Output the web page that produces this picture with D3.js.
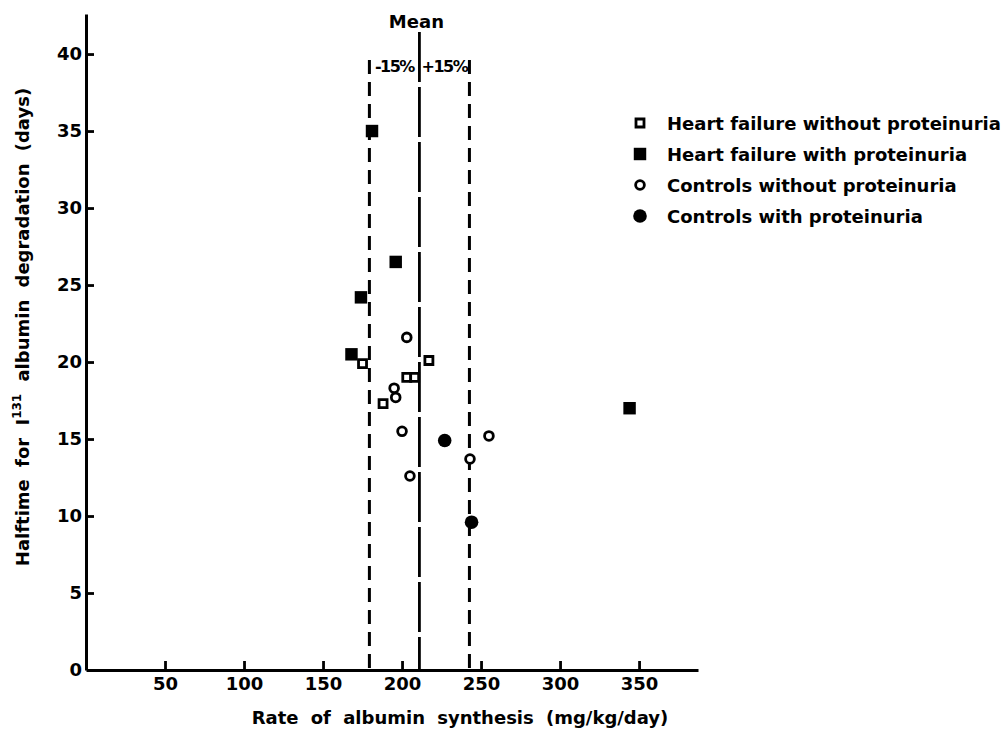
<!DOCTYPE html>
<html>
<head>
<meta charset="utf-8">
<script src="https://cdn.jsdelivr.net/npm/d3@7"></script>
<style>
    html, body { margin: 0; padding: 0; background: #fff; }
    svg text { font-family: "DejaVu Sans", sans-serif; font-weight: bold; fill: #000; }
</style>
</head>
<body>
<svg id="chart" width="1007" height="730"></svg>
<script>
// values: [synthesis mg/kg/day, halftime days]
const heartFailureWithout = [[175, 19.9], [217, 20.1], [203, 19.0], [208, 19.0], [188, 17.3]];
const heartFailureWith = [[181, 35.0], [196, 26.5], [174, 24.2], [168, 20.5], [344, 17.0]];
const controlsWithout = [[203, 21.6], [195, 18.3], [196, 17.7], [200, 15.5], [255, 15.2], [243, 13.7], [205, 12.6]];
const controlsWith = [[227, 14.9], [244, 9.6]];

const xTicks = [50, 100, 150, 200, 250, 300, 350];
const yTicks = [0, 5, 10, 15, 20, 25, 30, 35, 40];
const meanRate = 211;
const bandLabels = ["-15%", "+15%"];
const legendNames = [
    "Heart failure without proteinuria",
    "Heart failure with proteinuria",
    "Controls without proteinuria",
    "Controls with proteinuria"
];

const chart = (function () {
    "use strict";

    const svg = d3.select("#chart");
    const x = d3.scaleLinear().domain([0, 387.3]).range([86, 698]);
    const y = d3.scaleLinear().domain([0, 42.6]).range([670, 14]);

    // one entry per series: symbol type, size, filled or hollow
    const series = [
        { name: legendNames[0], data: heartFailureWithout, type: d3.symbolSquare, size: 64, filled: false },
        { name: legendNames[1], data: heartFailureWith, type: d3.symbolSquare, size: 155, filled: true },
        { name: legendNames[2], data: controlsWithout, type: d3.symbolCircle, size: 60, filled: false },
        { name: legendNames[3], data: controlsWith, type: d3.symbolCircle, size: 145, filled: true }
    ];

    function styleSymbol(sel) {
        sel.attr("d", (d) => d3.symbol().type(d.type).size(d.size)())
            .style("fill", (d) => d.filled ? "#000" : "#fff")
            .style("stroke", "#000")
            .style("stroke-width", (d) => d.filled ? 0 : 2.8);
    }

    function drawAxes() {
        const xAxis = svg.append("g")
            .attr("transform", `translate(0, ${y(0)})`)
            .call(d3.axisBottom(x).tickValues(xTicks).tickSizeInner(-9).tickSizeOuter(0).tickPadding(7));
        const yAxis = svg.append("g")
            .attr("transform", `translate(${x(0)}, 0)`)
            .call(d3.axisLeft(y).tickValues(yTicks).tickSizeInner(-8).tickSizeOuter(0).tickPadding(4));

        [xAxis, yAxis].forEach((g) => {
            g.select(".domain").style("stroke", "#000").style("stroke-width", 3);
            g.selectAll(".tick line").style("stroke", "#000").style("stroke-width", 2.8);
            g.selectAll(".tick text").style("font-size", "18px");
        });
        yAxis.selectAll(".tick").filter((d) => d === 0).select("line").remove();

        svg.append("text")
            .attr("x", 460)
            .attr("y", 724)
            .attr("text-anchor", "middle")
            .style("font-size", "18px")
            .style("word-spacing", "6px")
            .text("Rate of albumin synthesis (mg/kg/day)");

        const yTitle = svg.append("text")
            .attr("transform", "translate(29, 327) rotate(-90)")
            .attr("text-anchor", "middle")
            .style("font-size", "18px")
            .style("word-spacing", "6px");
        yTitle.append("tspan").text("Halftime for I");
        yTitle.append("tspan").attr("dy", -8).style("font-size", "12px").text("131");
        yTitle.append("tspan").attr("dy", 8).text(" albumin degradation (days)");
    }

    function drawReferenceLines() {
        const bands = [meanRate * 0.85, meanRate * 1.15];

        svg.append("line")
            .attr("x1", x(meanRate)).attr("x2", x(meanRate))
            .attr("y1", 32).attr("y2", y(0))
            .style("stroke", "#000")
            .style("stroke-width", 2.8)
            .style("stroke-dasharray", "50,5");

        svg.selectAll(".band")
            .data(bands)
            .join("line")
            .attr("class", "band")
            .attr("x1", (d) => x(d)).attr("x2", (d) => x(d))
            .attr("y1", 60).attr("y2", y(0))
            .style("stroke", "#000")
            .style("stroke-width", 3)
            .style("stroke-dasharray", "14,8");

        svg.append("text")
            .attr("x", x(meanRate) - 3)
            .attr("y", 28)
            .attr("text-anchor", "middle")
            .style("font-size", "18px")
            .text("Mean");

        svg.selectAll(".band-label")
            .data(bandLabels)
            .join("text")
            .attr("class", "band-label")
            .attr("x", (d, i) => (x(bands[i]) + x(meanRate)) / 2)
            .attr("y", 72)
            .attr("text-anchor", "middle")
            .style("font-size", "16px")
            .style("letter-spacing", "-1.5px")
            .text((d) => d);
    }

    function drawPoints() {
        const points = series.flatMap((s) => s.data.map((p) => ({ ...s, px: p[0], py: p[1] })));
        svg.append("g")
            .selectAll("path")
            .data(points)
            .join("path")
            .attr("transform", (d) => `translate(${x(d.px)}, ${y(d.py)})`)
            .call(styleSymbol);
    }

    function drawLegend() {
        const rows = svg.append("g")
            .selectAll("g")
            .data(series)
            .join("g")
            .attr("transform", (d, i) => `translate(640, ${123 + i * 31})`);
        rows.append("path").call(styleSymbol);
        rows.append("text")
            .attr("x", 27)
            .attr("y", 7)
            .style("font-size", "18px")
            .text((d) => d.name);
    }

    function init() {
        drawReferenceLines();
        drawAxes();
        drawPoints();
        drawLegend();
    }

    return { init: init };
})();

chart.init();
</script>
</body>
</html>
